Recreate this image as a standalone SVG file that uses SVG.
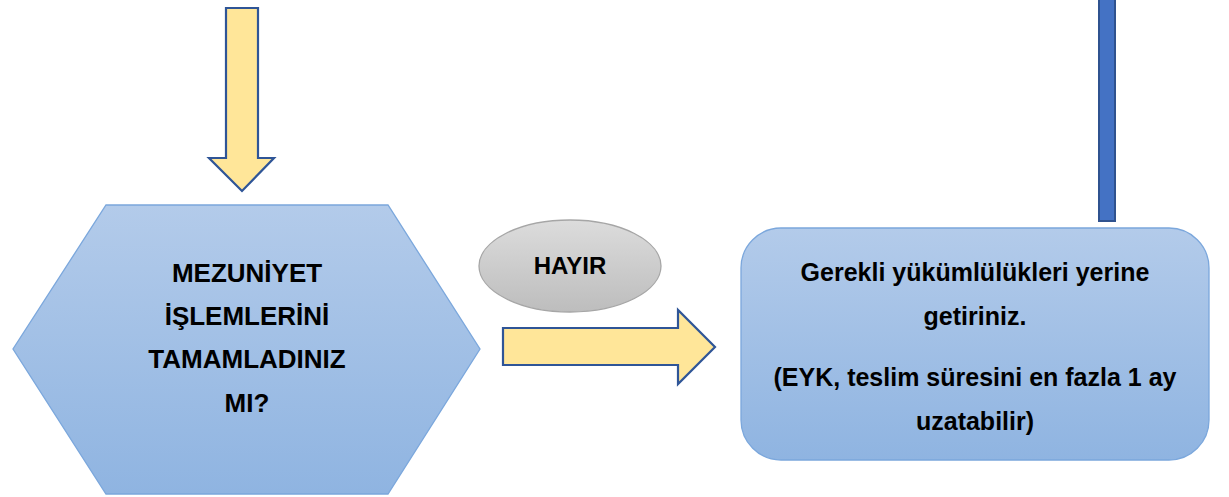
<svg xmlns="http://www.w3.org/2000/svg" width="1229" height="497" viewBox="0 0 1229 497">
<defs>
<linearGradient id="blueG" x1="0" y1="0" x2="0" y2="1">
<stop offset="0" stop-color="#b3cbea"/>
<stop offset="1" stop-color="#8fb4e1"/>
</linearGradient>
<linearGradient id="grayG" x1="0" y1="0" x2="0" y2="1">
<stop offset="0" stop-color="#dcdcdc"/>
<stop offset="1" stop-color="#bdbdbd"/>
</linearGradient>
</defs>
<style>
.yarrow{fill:#ffe699;stroke:#2f5597;stroke-width:2.2;stroke-linejoin:miter}
.bar{fill:#4472c4;stroke:#2f528f;stroke-width:2}
.shape{fill:url(#blueG);stroke:#7ba7dc;stroke-width:1.3}
.oval{fill:url(#grayG);stroke:#a6a6a6;stroke-width:1.3}
.t{font-family:"Liberation Sans",Arial,sans-serif;font-weight:bold;fill:#000;text-anchor:middle}
</style>
<rect width="1229" height="497" fill="#ffffff"/>
<g id="connectors">
<polygon class="yarrow" points="226,8 258,8 258,158 274,158 242,191 209,158 226,158"/>
<polygon class="yarrow" points="503,328 678,328 678,310 715,347 678,384 678,365 503,365"/>
<rect class="bar" x="1099" y="-2" width="16" height="223"/>
</g>
<g id="decision">
<polygon class="shape" points="106,205 388,205 480,349 388,494 106,494 13,349"/>
<text class="t" font-size="26" x="247" y="282">MEZUNİYET</text>
<text class="t" font-size="26" x="247" y="325">İŞLEMLERİNİ</text>
<text class="t" font-size="26" x="247" y="368">TAMAMLADINIZ</text>
<text class="t" font-size="26" x="247" y="412">MI?</text>
</g>
<g id="hayir">
<ellipse class="oval" cx="570" cy="266" rx="91" ry="46"/>
<text class="t" font-size="24" x="570" y="274">HAYIR</text>
</g>
<g id="action">
<rect class="shape" x="741" y="228" width="468" height="232" rx="40" ry="40"/>
<text class="t" font-size="25" x="975" y="281">Gerekli yükümlülükleri yerine</text>
<text class="t" font-size="25" x="975" y="325">getiriniz.</text>
<text class="t" font-size="25" x="975" y="386">(EYK, teslim süresini en fazla 1 ay</text>
<text class="t" font-size="25" x="975" y="430">uzatabilir)</text>
</g>
</svg>
